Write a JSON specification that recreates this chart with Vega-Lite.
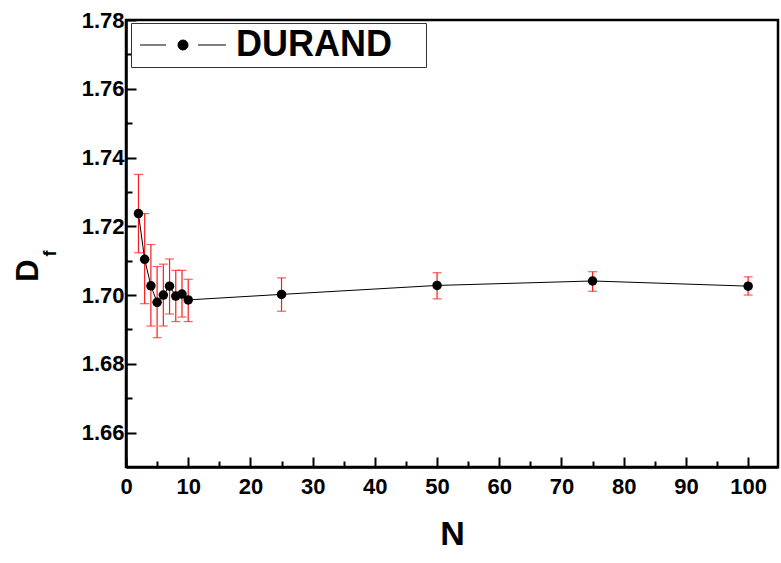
{
  "$schema": "https://vega.github.io/schema/vega-lite/v6.json",
  "autosize": {"type": "none"},
  "padding": {"left": 126, "top": 20, "right": 3, "bottom": 96},
  "width": 652,
  "height": 447,
  "background": "white",
  "view": {"stroke": "black", "strokeWidth": 2.5},
  "config": {
    "font": "Liberation Sans",
    "axis": {"labelFont": "Liberation Sans", "titleFont": "Liberation Sans", "labelFontWeight": "bold", "titleFontWeight": "bold", "labelColor": "black", "titleColor": "black", "grid": false}
  },
  "data": {"values": [
    {"N": 2, "Df": 1.7237, "lo": 1.7123, "hi": 1.7351, "series": "DURAND"},
    {"N": 3, "Df": 1.7104, "lo": 1.6975, "hi": 1.7237, "series": "DURAND"},
    {"N": 4, "Df": 1.7027, "lo": 1.6910, "hi": 1.7147, "series": "DURAND"},
    {"N": 5, "Df": 1.6979, "lo": 1.6876, "hi": 1.7083, "series": "DURAND"},
    {"N": 6, "Df": 1.7000, "lo": 1.6910, "hi": 1.7090, "series": "DURAND"},
    {"N": 7, "Df": 1.7026, "lo": 1.6945, "hi": 1.7105, "series": "DURAND"},
    {"N": 8, "Df": 1.6997, "lo": 1.6923, "hi": 1.7072, "series": "DURAND"},
    {"N": 9, "Df": 1.7003, "lo": 1.6936, "hi": 1.7072, "series": "DURAND"},
    {"N": 10, "Df": 1.6986, "lo": 1.6923, "hi": 1.7046, "series": "DURAND"},
    {"N": 25, "Df": 1.7002, "lo": 1.6953, "hi": 1.7050, "series": "DURAND"},
    {"N": 50, "Df": 1.7028, "lo": 1.6989, "hi": 1.7065, "series": "DURAND"},
    {"N": 75, "Df": 1.7041, "lo": 1.7011, "hi": 1.7068, "series": "DURAND"},
    {"N": 100, "Df": 1.7026, "lo": 1.7000, "hi": 1.7053, "series": "DURAND"}
  ]},
  "resolve": {"axis": {"x": "independent", "y": "independent"}},
  "layer": [
    {
      "mark": {"type": "rule", "color": "#ff1a1a", "strokeWidth": 1.2},
      "encoding": {
        "x": {"field": "N", "type": "quantitative", "scale": {"domain": [0, 104.8], "nice": false, "zero": false},
          "axis": {"orient": "bottom", "values": [0,10,20,30,40,50,60,70,80,90,100], "tickSize": -10, "tickWidth": 2, "tickColor": "black", "domainWidth": 2.5, "domainColor": "black", "labelFontSize": 22, "labelPadding": 19, "labelFlush": false, "title": "N", "titleFontSize": 34, "titleX": 326, "titleY": 77, "titleBaseline": "alphabetic"}},
        "y": {"field": "lo", "type": "quantitative", "scale": {"domain": [1.65, 1.78], "nice": false, "zero": false},
          "axis": {"orient": "left", "values": [1.66,1.68,1.70,1.72,1.74,1.76,1.78], "format": ".2f", "tickSize": -10, "tickWidth": 2, "tickColor": "black", "domainWidth": 2.5, "domainColor": "black", "labelFontSize": 22, "labelPadding": 12, "labelFlush": false, "title": "D", "titleFontSize": 31, "titleAngle": -90, "titleX": -89, "titleY": 250, "titleBaseline": "alphabetic", "titleAlign": "center"}},
        "y2": {"field": "hi"}
      }
    },
    {
      "mark": {"type": "tick", "orient": "horizontal", "color": "#ff1a1a", "size": 9, "thickness": 1.2},
      "encoding": {
        "x": {"field": "N", "type": "quantitative", "axis": null},
        "y": {"field": "lo", "type": "quantitative", "axis": null}
      }
    },
    {
      "mark": {"type": "tick", "orient": "horizontal", "color": "#ff1a1a", "size": 9, "thickness": 1.2},
      "encoding": {
        "x": {"field": "N", "type": "quantitative", "axis": null},
        "y": {"field": "hi", "type": "quantitative", "axis": null}
      }
    },
    {
      "mark": {"type": "line", "color": "black", "strokeWidth": 1},
      "encoding": {
        "x": {"field": "N", "type": "quantitative",
          "axis": {"orient": "bottom", "values": [5,15,25,35,45,55,65,75,85,95], "tickSize": -6, "tickWidth": 2, "tickColor": "black", "domain": false, "labels": false, "title": null}},
        "y": {"field": "Df", "type": "quantitative",
          "axis": {"orient": "left", "values": [1.67,1.69,1.71,1.73,1.75,1.77], "tickSize": -6, "tickWidth": 2, "tickColor": "black", "domain": false, "labels": false, "title": "f", "titleFontSize": 18, "titleAngle": -90, "titleX": -71, "titleY": 233, "titleBaseline": "alphabetic", "titleAlign": "center"}}
      }
    },
    {
      "mark": {"type": "point", "filled": true, "opacity": 1, "size": 90},
      "encoding": {
        "x": {"field": "N", "type": "quantitative", "axis": null},
        "y": {"field": "Df", "type": "quantitative", "axis": null},
        "color": {"field": "series", "type": "nominal", "scale": {"range": ["black"]},
          "legend": {"orient": "none", "legendX": 5, "legendY": 3, "title": null, "padding": 4,
            "strokeColor": "#333333", "fillColor": "white",
            "symbolType": "M-8.6,0L-3.4,0M3,0L8.6,0M-1,0A1,1,0,1,0,1,0A1,1,0,1,0,-1,0Z",
            "symbolSize": 100, "symbolFillColor": "black", "symbolStrokeColor": "black", "symbolStrokeWidth": 1,
            "symbolOffset": 30, "labelOffset": 35, "labelLimit": 400, "labelFont": "Liberation Sans", "labelFontSize": 36, "labelFontWeight": "bold", "labelColor": "black", "labelExpr": "datum.label + '\u00a0\u00a0\u00a0\u200b'"}}
      }
    }
  ]
}
